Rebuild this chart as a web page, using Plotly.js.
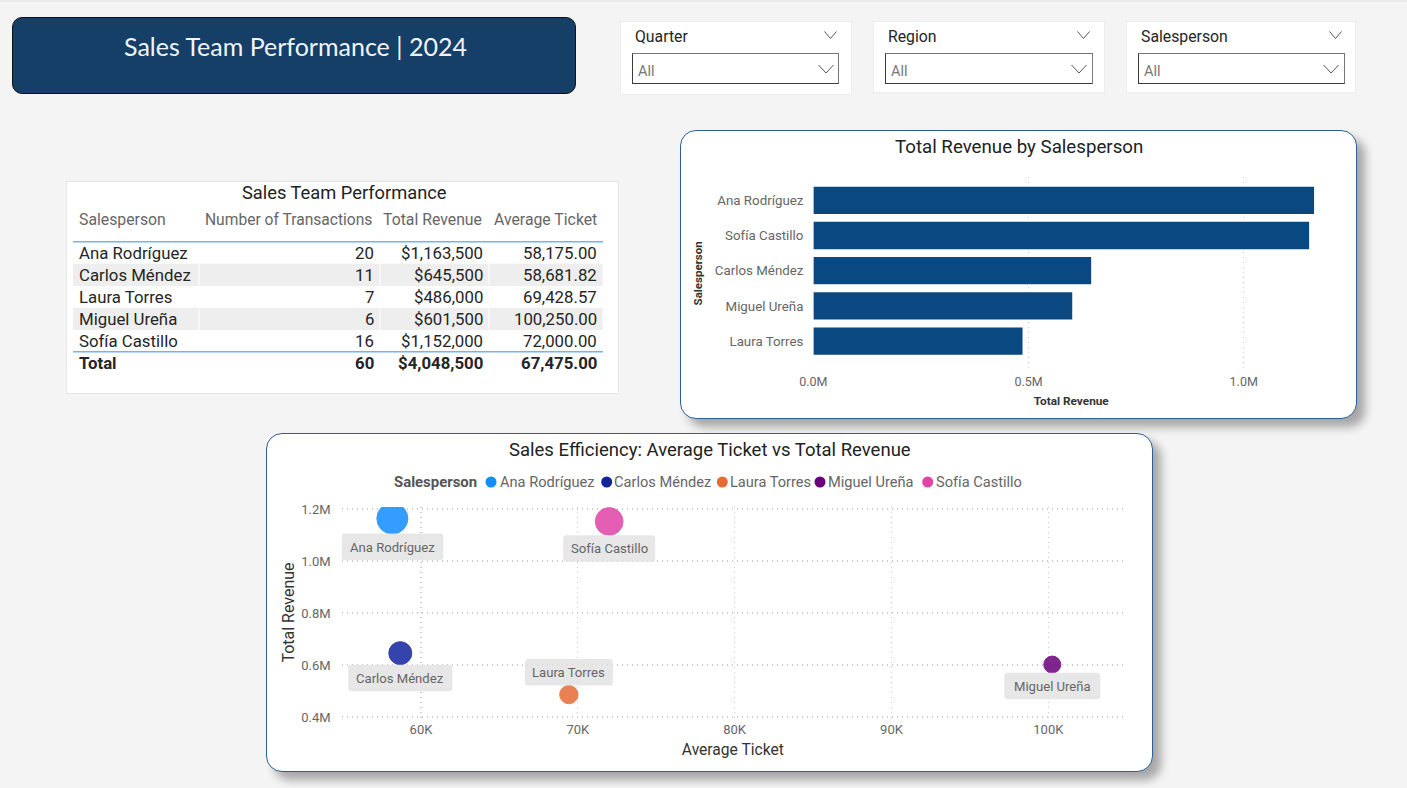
<!DOCTYPE html>
<html><head><meta charset="utf-8">
<script src="https://cdn.plot.ly/plotly-3.0.1.min.js"></script>
<style>
html,body{margin:0;padding:0;width:1407px;height:788px;overflow:hidden;background:#F4F4F4;font-family:Roboto,sans-serif}
.c{position:absolute;box-sizing:border-box;background:#fff}
#plot{position:absolute;left:0;top:0;width:1407px;height:788px}
#strip{position:absolute;left:0;top:0;width:1407px;height:2px;background:#EAEAEA}
.slicer{border:1px solid #EDEDED}
.box{border:1.4px solid #3a3a3a;border-top-color:#777;border-right-color:#777}
.chart{border:1.3px solid #2A6094;border-radius:16px;box-shadow:8px 8px 10px rgba(0,0,0,.32)}
</style></head><body>
<div id="strip"></div>
<div class="c" style="left:12px;top:17px;width:564px;height:77px;background:#163F68;border:1px solid #111;border-radius:10px"></div>
<div class="c slicer" style="left:620px;top:21px;width:232px;height:74px"></div>
<div class="c slicer" style="left:873px;top:21px;width:232px;height:72px"></div>
<div class="c slicer" style="left:1126px;top:21px;width:230px;height:72px"></div>
<div class="c box" style="left:632px;top:53px;width:207px;height:31px"></div>
<div class="c box" style="left:885px;top:53px;width:208px;height:31px"></div>
<div class="c box" style="left:1138px;top:53px;width:207px;height:31px"></div>
<div class="c" style="left:66px;top:181px;width:553px;height:213px;border:1px solid #E6E6E6"></div>
<div class="c chart" style="left:680px;top:130px;width:677px;height:289px"></div>
<div class="c chart" style="left:266px;top:433px;width:887px;height:339px"></div>
<div id="plot"></div>
<script>
// ---------- data ----------
const salespeople   = ["Ana Rodríguez","Carlos Méndez","Laura Torres","Miguel Ureña","Sofía Castillo"];
const transactions  = [20,11,7,6,16];
const totalRevenue  = [1163500,645500,486000,601500,1152000];
const averageTicket = [58175.00,58681.82,69428.57,100250.00,72000.00];
const bubbleColors  = ["#118DFF","#12239E","#E66C37","#6B007B","#E044A7"];
const totalLabel = "Total", totalTransactions = 60, totalRevenueSum = 4048500, totalAverageTicket = 67475.00;
const tableHeaders  = ["Salesperson","Number of Transactions","Total Revenue","Average Ticket"];
const barOrder      = ["Ana Rodríguez","Sofía Castillo","Carlos Méndez","Miguel Ureña","Laura Torres"];
const barTickVals   = [0,500000,1000000];
const barTickText   = ["0.0M","0.5M","1.0M"];
const xTickVals     = [60000,70000,80000,90000,100000];
const xTickText     = ["60K","70K","80K","90K","100K"];
const yTickVals     = [400000,600000,800000,1000000,1200000];
const yTickText     = ["0.4M","0.6M","0.8M","1.0M","1.2M"];
const slicerNames   = ["Quarter","Region","Salesperson"];
const slicerValue   = "All";
// ---------- helpers ----------
const W=1407,H=788;
const px=x=>x/W, py=y=>1-y/H;
const F="Roboto, sans-serif";
const note=(text,x,y,size,color,anchor,extra)=>Object.assign({text,x:px(x),y:py(y),xref:'paper',yref:'paper',showarrow:false,
  xanchor:anchor||'center',yanchor:'middle',font:{family:F,size,color}},extra||{});
const money=v=>"$"+v.toLocaleString('en-US');
const dec=v=>v.toLocaleString('en-US',{minimumFractionDigits:2,maximumFractionDigits:2});
const annotations=[],shapes=[];
// banner + slicers
annotations.push(note("Sales Team Performance | 2024",295,46,25,"#F2F5F8",'center',{font:{family:"Lato, sans-serif",size:25,color:"#F2F5F8"}}));
const slicerLeft=[632,885,1138], slicerRight=[839,1092,1344];
slicerNames.forEach((n,i)=>{
  annotations.push(note(n,slicerLeft[i]+1,36.5,15.8,"#252525",'left'));
  annotations.push(note(slicerValue,slicerLeft[i]+4,71.2,14.5,"#777777",'left'));
  const chev=(cx,cy,w,h)=>({type:'path',xref:'paper',yref:'paper',line:{color:"#555",width:1},
    path:`M ${px(cx-w/2)} ${py(cy-h/2)} L ${px(cx)} ${py(cy+h/2)} L ${px(cx+w/2)} ${py(cy-h/2)}`});
  shapes.push(chev(slicerRight[i]-8.5,35,12,7));
  shapes.push(chev(slicerRight[i]-13,69,15,8));
});
// table, drawn from the arrays above
const colEdge=[73,199,380,489,603];
const colRight=[0,375.5,485,598.5];
const headRight=[0,374,484,598.5];
const rowY=[253,275,297,319,341,363];
annotations.push(note("Sales Team Performance",344,192.7,18.3,"#222222"));
tableHeaders.forEach((t,c)=>annotations.push(c===0?note(t,77,219.5,15.8,"#666666",'left'):note(t,headRight[c],219.5,c===1?15.6:15.8,"#666666",'right')));
[1,3].forEach(r=>colEdge.slice(0,4).forEach((e,c)=>shapes.push({type:'rect',layer:'below',xref:'paper',yref:'paper',
  x0:px(e+(c?0.5:0)),x1:px(colEdge[c+1]-0.5),y0:py(rowY[r]-11.3),y1:py(rowY[r]+11),fillcolor:"#EEEEEE",line:{width:0}})));
[241.7,351.7].forEach(y=>shapes.push({type:'line',xref:'paper',yref:'paper',x0:px(73),x1:px(603),y0:py(y),y1:py(y),line:{color:"#71B5F5",width:1.4}}));
const cellFont=16.8, cellColor="#252525";
salespeople.forEach((n,r)=>{
  annotations.push(note(n,77,rowY[r],cellFont,cellColor,'left'));
  annotations.push(note(String(transactions[r]),colRight[1],rowY[r],cellFont,cellColor,'right'));
  annotations.push(note(money(totalRevenue[r]),colRight[2],rowY[r],cellFont,cellColor,'right'));
  annotations.push(note(dec(averageTicket[r]),colRight[3],rowY[r],cellFont,cellColor,'right'));
});
annotations.push(note("<b>"+totalLabel+"</b>",77,rowY[5],cellFont,cellColor,'left'));
[String(totalTransactions),money(totalRevenueSum),dec(totalAverageTicket)].forEach((t,c)=>
  annotations.push(note("<b>"+t+"</b>",colRight[c+1],rowY[5],cellFont,cellColor,'right')));
// chart titles
annotations.push(note("Total Revenue by Salesperson",1019,147,18.7,"#222222"));
annotations.push(note("Sales Efficiency: Average Ticket vs Total Revenue",710,450,18.5,"#222222"));
// legend
annotations.push(note("<b>Salesperson</b>",392,481.5,14.9,"#555555",'left'));
const legendMark=[491,606.7,722.3,820,927.7], legendText=[498,612,728.3,826.3,933.7];
salespeople.forEach((n,i)=>{
  annotations.push(note(n,legendText[i],481.5,14.6,"#666666",'left'));
  const r=5.5,cx=legendMark[i],cy=482;
  shapes.push({type:'circle',xref:'paper',yref:'paper',x0:px(cx-r),x1:px(cx+r),y0:py(cy-r),y1:py(cy+r),fillcolor:bubbleColors[i],line:{width:0}});
});
// data-label plates, anchored to the data points
const labelDY=[28.3,24.8,-22.3,21.5,27];
const labelW=[102,104,88,96,92], labelH=26.5, rad=3;
salespeople.forEach((n,i)=>{
  const w=labelW[i]/2,h=labelH/2,d=-labelDY[i];
  const p=`M ${-w+rad} ${d+h} L ${w-rad} ${d+h} Q ${w} ${d+h} ${w} ${d+h-rad} L ${w} ${d-h+rad} Q ${w} ${d-h} ${w-rad} ${d-h} L ${-w+rad} ${d-h} Q ${-w} ${d-h} ${-w} ${d-h+rad} L ${-w} ${d+h-rad} Q ${-w} ${d+h} ${-w+rad} ${d+h} Z`;
  shapes.push({type:'path',layer:'above',xref:'x2',yref:'y2',xsizemode:'pixel',ysizemode:'pixel',xanchor:averageTicket[i],yanchor:totalRevenue[i],
    path:p,fillcolor:"rgba(226,226,226,0.82)",line:{width:0}});
  annotations.push({text:n,x:averageTicket[i],y:totalRevenue[i],xref:'x2',yref:'y2',showarrow:false,xanchor:'center',yanchor:'middle',
    xshift:0,yshift:-labelDY[i]-0.5,font:{family:F,size:13.1,color:"#666666"}});
});
// ---------- traces ----------
const traces=[];
const barValue=n=>totalRevenue[salespeople.indexOf(n)];
traces.push({type:'bar',orientation:'h',y:barOrder,x:barOrder.map(barValue),marker:{color:"#094880",line:{width:0}},width:0.775,xaxis:'x',yaxis:'y',hoverinfo:'skip'});
salespeople.forEach((n,i)=>traces.push({type:'scatter',mode:'markers',name:n,x:[averageTicket[i]],y:[totalRevenue[i]],xaxis:'x2',yaxis:'y2',
  marker:{size:[transactions[i]],sizemode:'area',sizeref:0.0416,color:bubbleColors[i],opacity:0.85,line:{color:bubbleColors[i],width:1}},hoverinfo:'skip'}));
// ---------- layout ----------
const grid={showgrid:true,gridcolor:"#CACACA",griddash:"1.3px,3.7px",gridwidth:1.2,zeroline:false,showline:false,ticks:''};
const layout={width:W,height:H,margin:{l:0,r:0,t:0,b:0},paper_bgcolor:"rgba(0,0,0,0)",plot_bgcolor:"rgba(0,0,0,0)",showlegend:false,
  annotations,shapes,
  xaxis:Object.assign({},grid,{domain:[px(813.4),px(1329)],range:[0,1198200],tickmode:'array',tickvals:barTickVals,ticktext:barTickText,
    tickfont:{family:F,size:12.5,color:"#666666"},ticklabelstandoff:2,anchor:'y',title:{text:"<b>Total Revenue</b>",font:{family:F,size:11.8,color:"#333333"},standoff:9}}),
  yaxis:{domain:[py(370),py(176.7)],type:'category',categoryorder:'array',categoryarray:barOrder,range:[4.82,-0.67],showgrid:false,zeroline:false,showline:false,ticks:'',anchor:'x',
    tickfont:{family:F,size:13.3,color:"#666666"},ticklabelstandoff:9,title:{text:"<b>Salesperson</b>",font:{family:F,size:11.5,color:"#333333"},standoff:9}},
  xaxis2:Object.assign({},grid,{domain:[px(341.7),px(1124)],range:[54946,104825],tickmode:'array',tickvals:xTickVals,ticktext:xTickText,anchor:'y2',
    tickfont:{family:F,size:13,color:"#666666"},ticklabelstandoff:2,title:{text:"Average Ticket",font:{family:F,size:15.6,color:"#333333"},standoff:8}}),
  yaxis2:Object.assign({},grid,{domain:[py(718),py(507)],range:[396000,1207700],tickmode:'array',tickvals:yTickVals,ticktext:yTickText,anchor:'x2',
    tickfont:{family:F,size:13,color:"#666666"},ticklabelstandoff:10,title:{text:"Total Revenue",font:{family:F,size:16,color:"#333333"},standoff:2}})
};
Plotly.newPlot('plot',traces,layout,{displayModeBar:false,staticPlot:true});
</script></body></html>
